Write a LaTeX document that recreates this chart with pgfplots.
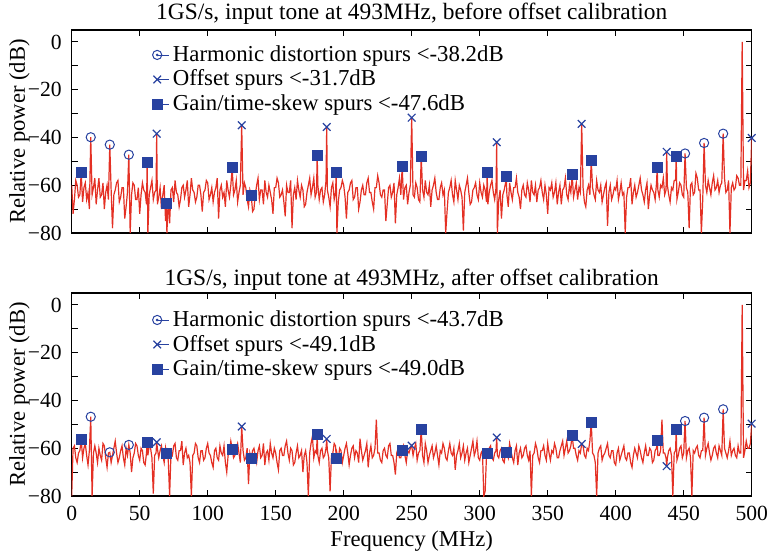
\documentclass[border=0pt]{standalone}
\usepackage{pgfplots}
\pgfplotsset{compat=1.18}
\usepackage{fontspec}
\setmainfont{Liberation Serif}
\definecolor{mblue}{RGB}{40,66,160}
\definecolor{sred}{RGB}{228,48,36}
\pgfplotsset{
  every axis title shift=0pt,
  spec/.style={
    scale only axis, width=340pt, height=101.5pt,
    xmin=0, xmax=500, ymin=-80, ymax=5,
    xtick={0,50,...,500},
    ytick={-80,-70,...,0},
    yticklabels={−80,,−60,,−40,,−20,,0},
    tick align=inside, major tick length=3pt,
    tick style={black, line width=0.5pt},
    axis line style={black, line width=0.6pt},
    ticklabel style={font=\fontsize{10.8}{13}\selectfont},
    yticklabel style={anchor=east, inner sep=0pt, xshift=-4.8pt},
    xticklabel style={anchor=base, inner sep=0pt, yshift=-12.35pt},
    label style={font=\fontsize{11.3}{13}\selectfont},
    ylabel={Relative power (dB)},
    ylabel style={at={(axis description cs:-0.0687,0.5)}, anchor=base},
    title style={font=\fontsize{11.7}{13}\selectfont, at={(0.5,1)}, anchor=base},
    clip mode=individual,
    legend cell align=left,
    legend style={draw=none, fill=none, anchor=north west,
      font=\fontsize{11.4}{13}\selectfont, row sep=-1.2pt},
    legend image code/.code={\draw[#1] plot coordinates {(3pt,0pt)}; \path (3pt,0pt) -- (8.7pt,0pt);},
  },
  hd/.style={only marks, mark=o, mark size=2.3pt, color=mblue, mark options={line width=0.5pt},
    legend image code/.code={\draw[mblue, line width=0.5pt] (3pt,0pt) circle (2.3pt); \fill[mblue] (3pt,0pt) circle (0.45pt); \path (3pt,0pt) -- (8.7pt,0pt);}},
  os/.style={only marks, mark=x, mark size=2.7pt, color=mblue, mark options={line width=0.6pt}},
  gs/.style={only marks, mark=square*, mark size=2.5pt, color=mblue},
  sp/.style={sred, line width=0.6pt, no marks, forget plot},
}
\begin{document}
\begin{tikzpicture}
\path[use as bounding box] (0,0) rectangle (384.5pt,279pt);
% ---------------- top panel ----------------
\begin{axis}[spec, at={(35.85pt,162.5pt)}, anchor=south west,
  xticklabels={},
  title style={yshift=5.3pt},
  legend style={at={(0.1088,0.965)}},
  title={1GS/s, input tone at 493MHz, before offset calibration}]
\addplot[sp] coordinates {
(0,-60)(1,-72)(2,-66)(3,-58)(4,-60)(5,-65)(6,-64)(7,-54.8)(8,-67)(9,-61)(10,-59)(11,-66)(12,-63)(13,-70)(14,-39.9)(15,-64)(16,-61)(17,-57)(18,-68)(19,-62)(20,-57)(21,-65)(22,-64)(23,-59)(24,-70)(25,-63)(26,-60)(27,-66)(28,-43.0)(29,-62)(30,-78)(31,-64)(32,-62)(33,-59)(34,-58)(35,-67)(36,-65)(37,-61)(38,-61)(39,-74)(40,-69)(41,-63)(42,-47.2)(43,-80)(44,-64)(45,-59)(46,-60)(47,-66)(48,-66)(49,-61)
(50,-72)(51,-64)(52,-59)(53,-62)(54,-63)(55,-68)(55.5,-50.6)(56,-80)(57,-64)(58,-61)(59,-58)(60,-66)(61,-63)(62,-62)(62.5,-38.4)(63,-68)(64,-65)(65,-61)(66,-70)(67,-64)(68,-60)(69,-75)(69.5,-67.4)(70,-80)(71,-66)(72,-76)(73,-62)(74,-61)(75,-67)(76,-58)(77,-63)(78,-64)(79,-69)(80,-66)(81,-61)(82,-60)(83,-65)(84,-62)(85,-58)(86,-69)(87,-64)(88,-57)(89,-62)(90,-63)(91,-67)(92,-65)(93,-60)(94,-60)(95,-64)(96,-71)(97,-63)(98,-62)(99,-58)
(100,-59)(101,-66)(102,-64)(103,-61)(104,-67)(105,-63)(106,-61)(107,-57)(108,-74)(109,-62)(110,-60)(111,-65)(112,-63)(113,-69)(114,-58)(115,-62)(116,-65)(117,-60)(118,-52.7)(119,-64)(120,-62)(121,-58)(122,-67)(123,-63)(124,-60)(125,-34.9)(126,-64)(127,-59)(128,-61)(129,-66)(130,-69)(131,-62)(132,-64.2)(133,-71)(134,-70)(135,-64)(136,-60)(137,-57)(138,-66)(139,-62)(140,-62)(141,-68)(142,-58)(143,-63)(144,-65)(145,-60)(146,-63)(147,-66)(148,-72)(149,-61)
(150,-61)(151,-57)(152,-59)(153,-65)(154,-64)(155,-62)(156,-67)(157,-73)(158,-60)(159,-63)(160,-63)(161,-58)(162,-78)(163,-64)(164,-61)(165,-66)(166,-58)(167,-62)(168,-65)(169,-60)(170,-62)(171,-69)(172,-68)(173,-63)(174,-60)(175,-57)(176,-64)(177,-61)(178,-57)(179,-65)(180,-63)(180.5,-47.6)(181,-60)(182,-66)(183,-62)(184,-61)(185,-67)(186,-64)(187,-58)(187.5,-35.6)(188,-62)(189,-65)(190,-69)(191,-61)(192,-59)(193,-66)(194,-63)(194.5,-54.8)(195,-80)(196,-67)(197,-62)(198,-61)(199,-58)
(200,-60)(201,-65)(202,-74)(203,-63)(204,-62)(205,-59)(206,-58)(207,-66)(208,-65)(209,-61)(210,-61)(211,-70)(212,-67)(213,-62)(214,-60)(215,-64)(216,-64)(217,-59)(218,-57)(219,-63)(220,-63)(221,-67)(222,-70)(223,-61)(224,-61)(225,-56)(226,-59)(227,-64)(228,-65)(229,-62)(230,-62)(231,-75)(232,-68)(233,-61)(234,-60)(235,-65)(236,-63)(237,-59)(238,-76)(239,-64)(240,-61)(241,-57)(242,-64)(243,-52.3)(244,-66)(245,-61)(246,-60)(247,-68)(248,-63)(249,-60)
(250,-31.7)(251,-64)(252,-65)(253,-59)(254,-61)(255,-66)(256,-67)(257,-48.1)(258,-62)(259,-65)(260,-58)(261,-63)(262,-64)(263,-60)(264,-69)(265,-62)(266,-60)(267,-57)(268,-63)(269,-66)(270,-66)(271,-61)(272,-59)(273,-64)(274,-62)(275,-80)(276,-71)(277,-63)(278,-61)(279,-58)(280,-64)(281,-67)(282,-58)(283,-62)(284,-66)(285,-60)(286,-62)(287,-65)(288,-79)(289,-63)(290,-60)(291,-57)(292,-63)(293,-68)(294,-67)(295,-62)(296,-61)(297,-59)(298,-64)(299,-66)
(300,-59)(301,-63)(302,-65)(303,-60)(304,-62)(305,-67)(305.5,-54.8)(306,-68)(307,-63)(308,-60)(309,-58)(310,-63)(311,-66)(312,-61)(312.5,-42.0)(313,-80)(314,-66)(315,-62)(316,-74)(317,-64)(318,-62)(319,-59)(319.5,-56.5)(320,-64)(321,-69)(322,-59)(323,-63)(324,-66)(325,-61)(326,-61)(327,-57)(328,-63)(329,-65)(330,-70)(331,-62)(332,-60)(333,-64)(334,-65)(335,-59)(336,-62)(337,-67)(338,-58)(339,-63)(340,-64)(341,-60)(342,-67)(343,-62)(344,-61)(345,-58)(346,-63)(347,-66)(348,-60)(349,-64)
(350,-72)(351,-61)(352,-62)(353,-59)(354,-65)(355,-63)(356,-59)(357,-68)(358,-63)(359,-60)(360,-68)(361,-62)(362,-61)(363,-57)(364,-64)(365,-66)(366,-60)(367,-63)(368,-55.5)(369,-65)(370,-62)(371,-59)(372,-66)(373,-61)(374,-63)(375,-34.3)(376,-61)(377,-67)(378,-69)(379,-62)(380,-60)(381,-64)(382,-49.7)(383,-61)(384,-64)(385,-66)(386,-58)(387,-62)(388,-63)(389,-60)(390,-67)(391,-64)(392,-61)(393,-59)(394,-77)(395,-63)(396,-60)(397,-66)(398,-64)(399,-61)
(400,-62)(401,-58)(402,-66)(403,-63)(404,-59)(405,-64)(406,-63)(407,-80)(408,-65)(409,-61)(410,-61)(411,-57)(412,-68)(413,-63)(414,-60)(415,-65)(416,-63)(417,-60)(418,-57)(419,-62)(420,-64)(421,-67)(422,-62)(423,-59)(424,-70)(425,-64)(426,-60)(427,-62)(428,-63)(429,-66)(430,-59)(430.5,-52.7)(431,-62)(432,-65)(433,-60)(434,-61)(435,-57)(436,-64)(437,-62)(437.5,-46.0)(438,-60)(439,-64)(440,-67)(441,-61)(442,-62)(443,-58)(444,-58)(444.5,-47.8)(445,-66)(446,-63)(447,-59)(448,-60)(449,-64)
(450,-65)(451,-46.7)(452,-61)(453,-63)(454,-78)(455,-60)(456,-59)(457,-64)(458,-63)(459,-55)(460,-57)(461,-62)(462,-62)(463,-80)(464,-66)(465,-42.3)(466,-60)(467,-63)(468,-58)(469,-61)(470,-64)(471,-59)(472,-56)(473,-62)(474,-61)(475,-58)(476,-63)(477,-60)(478,-59)(479,-38.4)(480,-57)(481,-63)(482,-62)(483,-58)(484,-80)(485,-61)(486,-59)(487,-62)(488,-61)(489,-56)(490,-57)(491,-60)(492,-60)(493,0)(494,-62)(495,-58)(496,-58)(497,-54)(498,-61)(499,-59)(500,-40.2)
};
\addplot[hd] coordinates {(14,-39.9)(28,-43.0)(42,-47.2)(451,-46.7)(465,-42.3)(479,-38.4)};
\addlegendentry{Harmonic distortion spurs <-38.2dB}
\addplot[os] coordinates {(62.5,-38.4)(125,-34.9)(187.5,-35.6)(250,-31.7)(312.5,-42.0)(375,-34.3)(437.5,-46.0)(500,-40.2)};
\addlegendentry{Offset spurs <-31.7dB}
\addplot[gs] coordinates {(7,-54.8)(55.5,-50.6)(69.5,-67.4)(118,-52.7)(132,-64.2)(180.5,-47.6)(194.5,-54.8)(243,-52.3)(257,-48.1)(305.5,-54.8)(319.5,-56.5)(368,-55.5)(382,-49.7)(430.5,-52.7)(444.5,-47.8)};
\addlegendentry{Gain/time-skew spurs <-47.6dB}
\end{axis}
% ---------------- bottom panel ----------------
\begin{axis}[spec, at={(35.85pt,31pt)}, anchor=south west,
  xticklabels={0,50,100,150,200,250,300,350,400,450,500},
  xlabel={Frequency (MHz)},
  xlabel style={at={(axis description cs:0.5,0)}, anchor=base, yshift=-25.35pt},
  title style={yshift=3.7pt},
  legend style={at={(0.1088,0.955)}},
  title={1GS/s, input tone at 493MHz, after offset calibration}]
\addplot[sp] coordinates {
(0,-80)(1,-60)(2,-59)(3,-64)(4,-66)(5,-62)(6,-61)(7,-56.4)(8,-64)(9,-60)(10,-58)(11,-63)(12,-67)(13,-61)(14,-46.8)(15,-80)(16,-62)(17,-59)(18,-62)(19,-66)(20,-60)(21,-63)(22,-65)(23,-58)(24,-59)(25,-64)(26,-68)(27,-62)(28,-61.7)(29,-66)(30,-63)(31,-60)(32,-57)(33,-62)(34,-66)(35,-64)(36,-61)(37,-59)(38,-64)(39,-67)(40,-60)(41,-63)(42,-58.6)(43,-62)(44,-70)(45,-64)(46,-62)(47,-58)(48,-59)(49,-63)
(50,-65)(51,-60)(52,-61)(53,-66)(54,-67)(55,-62)(55.5,-57.5)(56,-63)(57,-59)(58,-60)(59,-64)(60,-79)(61,-63)(62,-62)(62.5,-57.5)(63,-60)(64,-64)(65,-61)(66,-59)(67,-63)(68,-66)(69,-60)(69.5,-62.1)(70,-61)(71,-65)(72,-80)(73,-62)(74,-63)(75,-59)(76,-58)(77,-64)(78,-65)(79,-61)(80,-61)(81,-57)(82,-67)(83,-62)(84,-60)(85,-64)(86,-63)(87,-66)(88,-80)(89,-63)(90,-62)(91,-58)(92,-59)(93,-64)(94,-66)(95,-61)(96,-61)(97,-65)(98,-64)(99,-60)
(100,-58)(101,-62)(102,-63)(103,-66)(104,-68)(105,-61)(106,-60)(107,-64)(108,-65)(109,-59)(110,-62)(111,-63)(112,-59)(113,-66)(114,-70)(115,-63)(116,-61)(117,-57)(118,-60.3)(119,-64)(120,-63)(121,-60)(122,-58)(123,-62)(124,-66)(125,-50.9)(126,-61)(127,-65)(128,-64)(129,-60)(130,-75)(131,-62)(132,-64.2)(133,-61)(134,-60)(135,-63)(136,-66)(137,-61)(138,-59)(139,-64)(140,-63)(141,-58)(142,-67)(143,-62)(144,-61)(145,-65)(146,-58)(147,-62)(148,-64)(149,-60)
(150,-62)(151,-66)(152,-69)(153,-61)(154,-60)(155,-63)(156,-63)(157,-59)(158,-57)(159,-62)(160,-65)(161,-60)(162,-61)(163,-67)(164,-66)(165,-62)(166,-59)(167,-64)(168,-63)(169,-61)(170,-70)(171,-63)(172,-61)(173,-66)(174,-80)(175,-62)(176,-58)(177,-55)(178,-64)(179,-61)(180,-62)(180.5,-54.4)(181,-63)(182,-66)(183,-61)(184,-60)(185,-64)(186,-63)(187,-60)(187.5,-56.1)(188,-61)(189,-64)(190,-78)(191,-63)(192,-62)(193,-58)(194,-59)(194.5,-64.2)(195,-62)(196,-65)(197,-60)(198,-61)(199,-66)
(200,-63)(201,-60)(202,-58)(203,-62)(204,-67)(205,-63)(206,-60)(207,-59)(208,-64)(209,-61)(210,-62)(211,-66)(212,-56)(213,-61)(214,-65)(215,-63)(216,-61)(217,-58)(218,-68)(219,-62)(220,-59)(221,-64)(222,-63)(223,-60)(224,-48)(225,-62)(226,-62)(227,-65)(228,-66)(229,-61)(230,-60)(231,-63)(232,-64)(233,-59)(234,-58)(235,-63)(236,-63)(237,-66)(238,-71)(239,-62)(240,-60)(241,-64)(242,-64)(243,-61.0)(244,-59)(245,-63)(246,-66)(247,-61)(248,-62)(249,-60)
(250,-58.9)(251,-63)(252,-60)(253,-58)(254,-65)(255,-62)(256,-61)(257,-52.3)(258,-63)(259,-66)(260,-58)(261,-61)(262,-66)(263,-63)(264,-61)(265,-59)(266,-64)(267,-62)(268,-59)(269,-63)(270,-67)(271,-61)(272,-62)(273,-58)(274,-60)(275,-64)(276,-65)(277,-61)(278,-58)(279,-62)(280,-63)(281,-60)(282,-69)(283,-63)(284,-61)(285,-58)(286,-64)(287,-62)(288,-59)(289,-65)(290,-62)(291,-60)(292,-66)(293,-63)(294,-60)(295,-57)(296,-63)(297,-61)(298,-57)(299,-64)
(300,-65)(301,-62)(302,-61)(303,-80)(304,-78)(305,-63)(305.5,-62.1)(306,-63)(307,-60)(308,-59)(309,-64)(310,-65)(311,-62)(312,-61)(312.5,-55.5)(313,-63)(314,-64)(315,-61)(316,-60)(317,-65)(318,-66)(319,-62)(319.5,-61.7)(320,-62)(321,-64)(322,-58)(323,-61)(324,-64)(325,-66)(326,-61)(327,-59)(328,-67)(329,-62)(330,-60)(331,-64)(332,-63)(333,-60)(334,-59)(335,-63)(336,-65)(337,-61)(338,-80)(339,-63)(340,-62)(341,-58)(342,-60)(343,-64)(344,-66)(345,-61)(346,-61)(347,-59)(348,-63)(349,-65)
(350,-58)(351,-62)(352,-65)(353,-61)(354,-62)(355,-58)(356,-60)(357,-64)(358,-64)(359,-61)(360,-59)(361,-57)(362,-63)(363,-60)(364,-57)(365,-62)(366,-61)(367,-59)(368,-54.8)(369,-60)(370,-60)(371,-63)(372,-65)(373,-61)(374,-62)(375,-58.2)(376,-59)(377,-63)(378,-64)(379,-60)(380,-61)(381,-57)(382,-49.0)(383,-62)(384,-63)(385,-66)(386,-80)(387,-62)(388,-60)(389,-59)(390,-65)(391,-63)(392,-62)(393,-60)(394,-58)(395,-63)(396,-64)(397,-61)(398,-61)(399,-66)
(400,-67)(401,-62)(402,-60)(403,-65)(404,-63)(405,-61)(406,-59)(407,-64)(408,-65)(409,-62)(410,-62)(411,-66)(412,-68)(413,-63)(414,-60)(415,-62)(416,-64)(417,-59)(418,-61)(419,-64)(420,-66)(421,-62)(422,-59)(423,-63)(424,-63)(425,-60)(426,-61)(427,-66)(428,-65)(429,-61)(430,-60)(430.5,-56.8)(431,-63)(432,-63)(433,-61)(434,-48)(435,-62)(436,-62)(437,-64)(437.5,-67.5)(438,-64)(439,-61)(440,-60)(441,-63)(442,-80)(443,-62)(444,-61)(444.5,-52.3)(445,-65)(446,-63)(447,-60)(448,-59)(449,-64)
(450,-62)(451,-48.6)(452,-64)(453,-61)(454,-60)(455,-64)(456,-80)(457,-61)(458,-62)(459,-60)(460,-59)(461,-63)(462,-64)(463,-61)(464,-61)(465,-47.2)(466,-63)(467,-60)(468,-58)(469,-62)(470,-65)(471,-63)(472,-60)(473,-59)(474,-62)(475,-64)(476,-59)(477,-61)(478,-63)(479,-43.7)(480,-60)(481,-62)(482,-64)(483,-61)(484,-57)(485,-63)(486,-61)(487,-60)(488,-63)(489,-64)(490,-59)(491,-62)(492,-62)(493,0)(494,-64)(495,-61)(496,-57)(497,-60)(498,-60)(499,-58)(500,-49.7)
};
\addplot[hd] coordinates {(14,-46.8)(28,-61.7)(42,-58.6)(451,-48.6)(465,-47.2)(479,-43.7)};
\addlegendentry{Harmonic distortion spurs <-43.7dB}
\addplot[os] coordinates {(62.5,-57.5)(125,-50.9)(187.5,-56.1)(250,-58.9)(312.5,-55.5)(375,-58.2)(437.5,-67.5)(500,-49.7)};
\addlegendentry{Offset spurs <-49.1dB}
\addplot[gs] coordinates {(7,-56.4)(55.5,-57.5)(69.5,-62.1)(118,-60.3)(132,-64.2)(180.5,-54.4)(194.5,-64.2)(243,-61.0)(257,-52.3)(305.5,-62.1)(319.5,-61.7)(368,-54.8)(382,-49.0)(430.5,-56.8)(444.5,-52.3)};
\addlegendentry{Gain/time-skew spurs <-49.0dB}
\end{axis}
\end{tikzpicture}
\end{document}
